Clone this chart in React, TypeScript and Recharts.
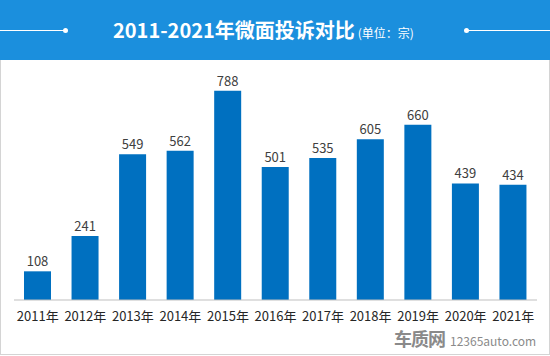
import { Bar, BarChart, LabelList, XAxis, YAxis } from "recharts";

const years = ["2011年", "2012年", "2013年", "2014年", "2015年", "2016年", "2017年", "2018年", "2019年", "2020年", "2021年"];
const complaints = [108, 241, 549, 562, 788, 501, 535, 605, 660, 439, 434];

const data = years.map((year, i) => ({ year, complaints: complaints[i] }));

const font = '"Noto Sans CJK SC", "Noto Sans", sans-serif';

export default function App() {
  return (
    <div style={{ position: "absolute", left: 0, top: 0, width: 550, height: 356, background: "#fff", fontFamily: font }}>
      <div style={{ position: "absolute", left: 0, top: 60, width: 548, height: 294, border: "1px solid #d4d4d4", borderTop: "none" }} />
      <div style={{ position: "absolute", left: 0, top: 0, width: 550, height: 60, background: "#1b8fdd" }}>
        <div style={{ position: "absolute", left: 0, top: 30, width: 65, height: 1, background: "#fff" }} />
        <div style={{ position: "absolute", left: 63, top: 28, width: 5, height: 5, borderRadius: 3, background: "#fff" }} />
        <div style={{ position: "absolute", left: 466, top: 30, width: 84, height: 1, background: "#fff" }} />
        <div style={{ position: "absolute", left: 464, top: 28, width: 5, height: 5, borderRadius: 3, background: "#fff" }} />
        <div style={{ position: "absolute", left: 113, top: 16, whiteSpace: "nowrap", color: "#fff", lineHeight: "28px" }}>
          <span style={{ fontSize: 20, fontWeight: 700 }}>2011-2021年微面投诉对比</span>
          <span style={{ fontSize: 12, marginLeft: 3 }}>(单位：宗)</span>
        </div>
      </div>
      <div style={{ position: "absolute", left: 0, top: 0 }}>
        <BarChart width={550} height={356} data={data} margin={{ top: 61, right: 13, bottom: 26, left: 14 }}>
          <YAxis hide domain={[0, 900]} />
          <XAxis
            dataKey="year"
            height={30}
            tickLine={false}
            axisLine={{ stroke: "#bfbfbf" }}
            tick={{ fill: "#262626", fontSize: 13, fontFamily: font }}
            tickMargin={6}
            interval={0}
          />
          <Bar dataKey="complaints" fill="#0070c0" barSize={27} isAnimationActive={false}>
            <LabelList dataKey="complaints" position="top" offset={5} fill="#404040" fontSize={13} fontFamily={font} />
          </Bar>
        </BarChart>
      </div>
      <div style={{ position: "absolute", left: 394, top: 329, whiteSpace: "nowrap", color: "#8a8a8a", lineHeight: "18px" }}>
        <span style={{ fontSize: 18, fontWeight: 700, letterSpacing: -1 }}>车质网</span>
        <span style={{ fontSize: 12, marginLeft: 5 }}>12365auto.com</span>
      </div>
    </div>
  );
}
